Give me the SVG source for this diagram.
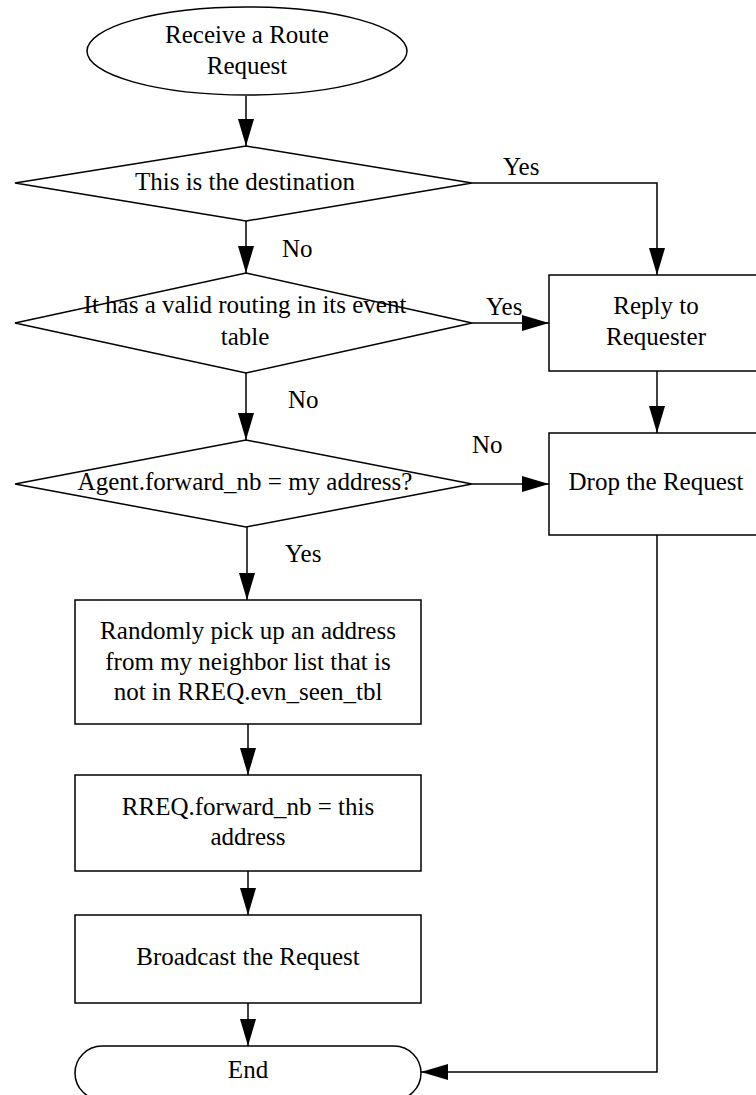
<svg xmlns="http://www.w3.org/2000/svg" width="756" height="1095" viewBox="0 0 756 1095">
  <defs>
    <style>
      .shape { fill: #ffffff; stroke: #000000; stroke-width: 1.5; }
      .wire { fill: none; stroke: #000000; stroke-width: 1.5; }
      text { font-family: "Liberation Serif", "Times New Roman", serif; font-size: 25px; fill: #000000; }
      .c { text-anchor: middle; }
    </style>
    <marker id="arrow" markerUnits="userSpaceOnUse" markerWidth="28" markerHeight="18" viewBox="0 -9 28 18" refX="27" refY="0" orient="auto">
      <path d="M0,-8 L27,0 L0,8 Z" fill="#000000"/>
    </marker>
  </defs>
  <rect width="756" height="1095" fill="#ffffff"/>

  <!-- connectors and their branch labels -->
  <g id="connectors">
    <path class="wire" d="M246,96 V146" marker-end="url(#arrow)"/>
    <path class="wire" d="M246,221 V273" marker-end="url(#arrow)"/>
    <path class="wire" d="M246,373 V440" marker-end="url(#arrow)"/>
    <path class="wire" d="M247,527 V600" marker-end="url(#arrow)"/>
    <path class="wire" d="M248,724 V775" marker-end="url(#arrow)"/>
    <path class="wire" d="M248,871 V915" marker-end="url(#arrow)"/>
    <path class="wire" d="M248,1003 V1046" marker-end="url(#arrow)"/>
    <path class="wire" d="M472,183 H657 V275" marker-end="url(#arrow)"/>
    <path class="wire" d="M472,323 H549" marker-end="url(#arrow)"/>
    <path class="wire" d="M657,371 V433" marker-end="url(#arrow)"/>
    <path class="wire" d="M472,484 H549" marker-end="url(#arrow)"/>
    <path class="wire" d="M657,535 V1072 H421" marker-end="url(#arrow)"/>
    <text x="503" y="175">Yes</text>
    <text x="282" y="257">No</text>
    <text x="486" y="315">Yes</text>
    <text x="288" y="408">No</text>
    <text x="472" y="453">No</text>
    <text x="285" y="562">Yes</text>
  </g>

  <g id="start">
    <ellipse class="shape" cx="247" cy="51" rx="160" ry="44"/>
    <text class="c" x="247" y="43">Receive a Route</text>
    <text class="c" x="247" y="74">Request</text>
  </g>

  <g id="is-destination">
    <polygon class="shape" points="246,146 472,183 246,221 15,183"/>
    <text class="c" x="245" y="190">This is the destination</text>
  </g>

  <g id="has-route">
    <polygon class="shape" points="246,273 472,323 246,373 15,323"/>
    <text class="c" x="245" y="313">It has a valid routing in its event</text>
    <text class="c" x="245" y="345">table</text>
  </g>

  <g id="forward-check">
    <polygon class="shape" points="246,440 472,484 246,527 15,484"/>
    <text class="c" x="245" y="490">Agent.forward_nb = my address?</text>
  </g>

  <g id="reply">
    <rect class="shape" x="549" y="275" width="216" height="96"/>
    <text class="c" x="656" y="314">Reply to</text>
    <text class="c" x="656" y="345">Requester</text>
  </g>

  <g id="drop">
    <rect class="shape" x="549" y="433" width="216" height="102"/>
    <text class="c" x="656" y="490">Drop the Request</text>
  </g>

  <g id="pick-neighbor">
    <rect class="shape" x="75" y="600" width="346" height="124"/>
    <text class="c" x="248" y="639">Randomly pick up an address</text>
    <text class="c" x="248" y="670">from my neighbor list that is</text>
    <text class="c" x="248" y="700">not in RREQ.evn_seen_tbl</text>
  </g>

  <g id="set-forward">
    <rect class="shape" x="75" y="775" width="346" height="96"/>
    <text class="c" x="248" y="815">RREQ.forward_nb = this</text>
    <text class="c" x="248" y="845">address</text>
  </g>

  <g id="broadcast">
    <rect class="shape" x="75" y="915" width="346" height="88"/>
    <text class="c" x="248" y="965">Broadcast the Request</text>
  </g>

  <g id="end">
    <rect class="shape" x="75" y="1046" width="346" height="54" rx="27" ry="27"/>
    <text class="c" x="248" y="1078">End</text>
  </g>
</svg>
